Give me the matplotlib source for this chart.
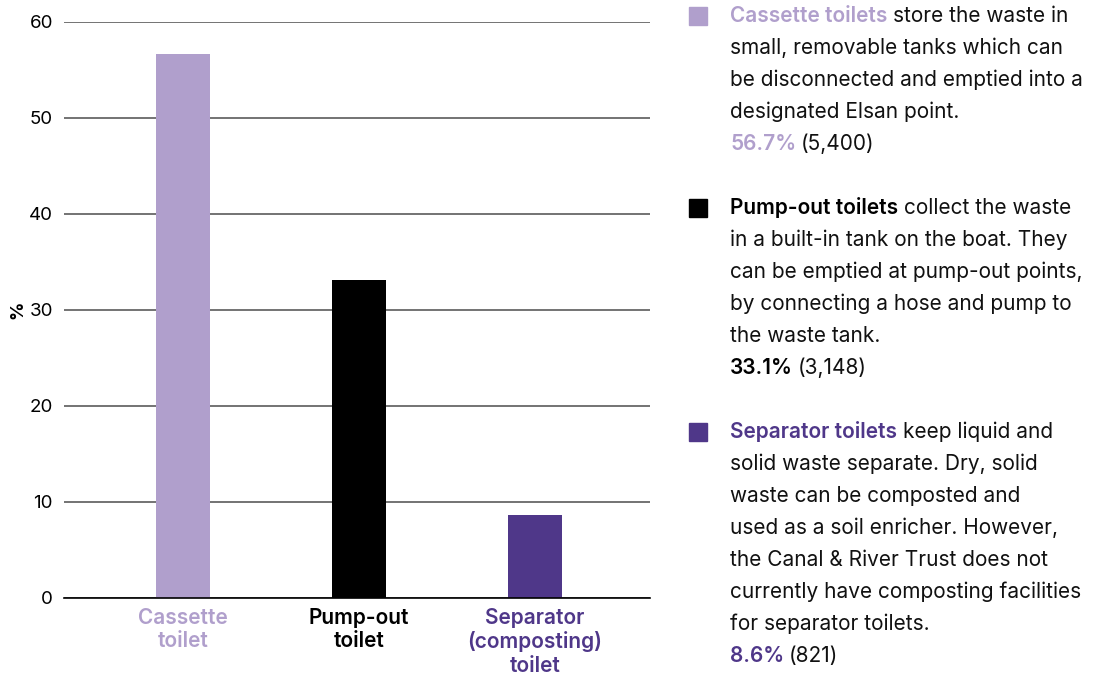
import matplotlib
matplotlib.use("Agg")
import matplotlib.pyplot as plt

plt.rcParams['font.family'] = ['Inter', 'DejaVu Sans']

categories = ["Cassette\ntoilet", "Pump-out\ntoilet", "Separator\n(composting)\ntoilet"]
values = [56.7, 33.1, 8.6]
counts = ["5,400", "3,148", "821"]
colors = ["#b09fcc", "#000000", "#4f3789"]
yticks = [0, 10, 20, 30, 40, 50, 60]

names = ["Cassette toilets", "Pump-out toilets", "Separator toilets"]
descriptions = [
    ["store the waste in",
     "small, removable tanks which can",
     "be disconnected and emptied into a",
     "designated Elsan point."],
    ["collect the waste",
     "in a built-in tank on the boat. They",
     "can be emptied at pump-out points,",
     "by connecting a hose and pump to",
     "the waste tank."],
    ["keep liquid and",
     "solid waste separate. Dry, solid",
     "waste can be composted and",
     "used as a soil enricher. However,",
     "the Canal & River Trust does not",
     "currently have composting facilities",
     "for separator toilets."],
]

W, H = 1101, 675
fig = plt.figure(figsize=(W / 100, H / 100), dpi=100)
ax = fig.add_axes([64 / W, 1 - 598 / H, (650 - 64) / W, (598 - 22) / H])

x = range(len(values))
ax.bar(x, values, width=0.307, color=colors, zorder=3)
ax.set_xlim(-0.676, 2.653)
ax.set_ylim(0, 60)
ax.set_yticks(yticks)
ax.yaxis.grid(True, color="#4d4d4d", linewidth=1.1, zorder=0)
for s in ["top", "right", "left"]:
    ax.spines[s].set_visible(False)
ax.spines["bottom"].set_color("black")
ax.spines["bottom"].set_linewidth(1.2)
ax.spines["bottom"].set_zorder(4)
ax.tick_params(axis="y", length=0, pad=8, labelsize=13.5)
ax.tick_params(axis="x", length=0, pad=7)
ax.set_xticks(list(x))
ax.set_xticklabels(categories, fontsize=15, fontweight="semibold", linespacing=1.22)
for lbl, c in zip(ax.get_xticklabels(), colors):
    lbl.set_color(c)

def fy(py):
    return 1 - py / H

fig.text(18 / W, fy(310), "%", fontsize=13, fontweight="bold", rotation=90,
         va="center", ha="center")

# legend text on the right
starts = [16, 208, 432]
fs = 15
for i in range(3):
    y0 = starts[i]
    fig.patches.append(plt.Rectangle((689 / W, fy(y0 + 9)), 18 / W, 18 / H,
                                     transform=fig.transFigure, color=colors[i]))
    t = fig.text(730 / W, fy(y0), names[i], color=colors[i], fontsize=fs,
                 fontweight="semibold", va="center", ha="left")
    ax.annotate(descriptions[i][0], xy=(1, 0), xycoords=t, xytext=(4, 0),
                textcoords="offset points", va="bottom", ha="left",
                fontsize=fs, color="#111111", annotation_clip=False)
    for j, line in enumerate(descriptions[i][1:], start=1):
        fig.text(730 / W, fy(y0 + 32 * j), line, fontsize=fs, color="#111111",
                 va="center", ha="left")
    yp = y0 + 32 * len(descriptions[i])
    p = fig.text(730 / W, fy(yp), "%.1f%%" % values[i], color=colors[i], fontsize=fs,
                 fontweight="semibold", va="center", ha="left")
    ax.annotate("(%s)" % counts[i], xy=(1, 0), xycoords=p, xytext=(3.5, 0),
                textcoords="offset points", va="bottom", ha="left",
                fontsize=fs, color="#111111", annotation_clip=False)

fig.savefig("out.png", dpi=100)
